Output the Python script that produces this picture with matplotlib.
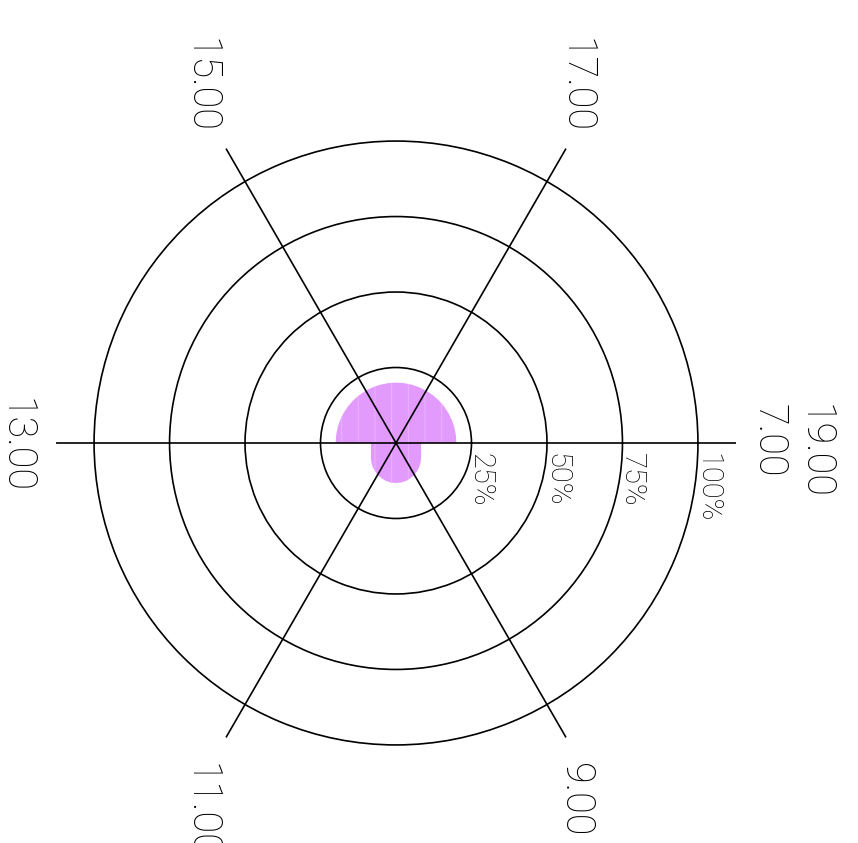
import numpy as np
import matplotlib
matplotlib.use("Agg")
import matplotlib.pyplot as plt

# share of the day (%), sampled every 15 minutes
morning_hours = np.arange(7.0, 13.01, 0.25)
morning = [8.3, 8.35, 8.6, 9.0, 9.6, 10.3, 11.0, 11.6, 12.2, 12.6, 13.0, 13.2, 13.25,
           13.2, 13.0, 12.6, 12.2, 11.6, 11.0, 10.3, 9.6, 9.0, 8.6, 8.35, 8.3]
afternoon_hours = np.arange(13.0, 19.01, 0.25)
afternoon = [20.0] * 25

hour_ticks = [7, 9, 11, 13, 15, 17, 19]
hour_labels = ["7.00", "9.00", "11.00", "13.00", "15.00", "17.00", "19.00"]
r_ticks = [25, 50, 75, 100]
r_labels = ["25%", "50%", "75%", "100%"]

start, span = 7.0, 12.0


def to_theta(h):
    return (np.asarray(h, dtype=float) - start) / span * 2 * np.pi


plt.rcParams["font.family"] = ["Roboto", "DejaVu Sans"]
plt.rcParams["hatch.linewidth"] = 0.6

fig = plt.figure(figsize=(8.58, 8.43), dpi=100)
ax = fig.add_axes([0.0653, 0.0712, 0.7925, 0.8066], projection="polar")
ax.set_theta_zero_location("E")
ax.set_theta_direction(-1)
ax.set_ylim(0, 112.6)

fill_col = "#E29BFD"
for hrs, vals in [(morning_hours, morning), (afternoon_hours, afternoon)]:
    th = np.concatenate([[to_theta(hrs[0])], to_theta(hrs)])
    rr = np.concatenate([[0], vals])
    ax.fill(th, rr, facecolor=fill_col, edgecolor="#EAB6FE", hatch="|",
            linewidth=0, zorder=1)

ax.set_xticks(to_theta(hour_ticks[:-1]))
ax.set_xticklabels([])
ax.set_yticks(r_ticks)
ax.set_yticklabels([])
ax.grid(True, color="black", linewidth=1.2)
ax.spines["polar"].set_visible(False)

# hour labels; labels sharing an angle are stacked in one block
groups = {}
for h, lab in zip(hour_ticks, hour_labels):
    key = round(float(to_theta(h)) % (2 * np.pi), 4)
    groups.setdefault(key, []).append(lab)

txt = dict(rotation=270, fontsize=28.5, fontweight="light", color="black",
           textcoords="offset pixels", annotation_clip=False)
for th, labs in groups.items():
    c, s = np.cos(th), -np.sin(th)
    text = "\n".join(reversed(labs))
    if abs(c) > 0.9:
        if c > 0:
            ha, off = "left", (361 * c - 8, -8)
        else:
            ha, off = "right", (361 * c, -3)
        ax.annotate(text, xy=(0, 0), xytext=off, ha=ha, va="center",
                    multialignment="left", linespacing=1.25, **txt)
    else:
        va = "bottom" if s > 0 else "top"
        off = (375 * c - 8, (358 if s > 0 else 369) * s)
        ax.annotate(text, xy=(0, 0), xytext=off, ha="center", va=va, **txt)

for r, lab in zip(r_ticks, r_labels):
    ax.annotate(lab, xy=(0, r), xytext=(9, -10), textcoords="offset pixels",
                rotation=270, ha="center", va="top", fontsize=21,
                fontweight="light", color="black")

fig.savefig("out.png", dpi=100)
